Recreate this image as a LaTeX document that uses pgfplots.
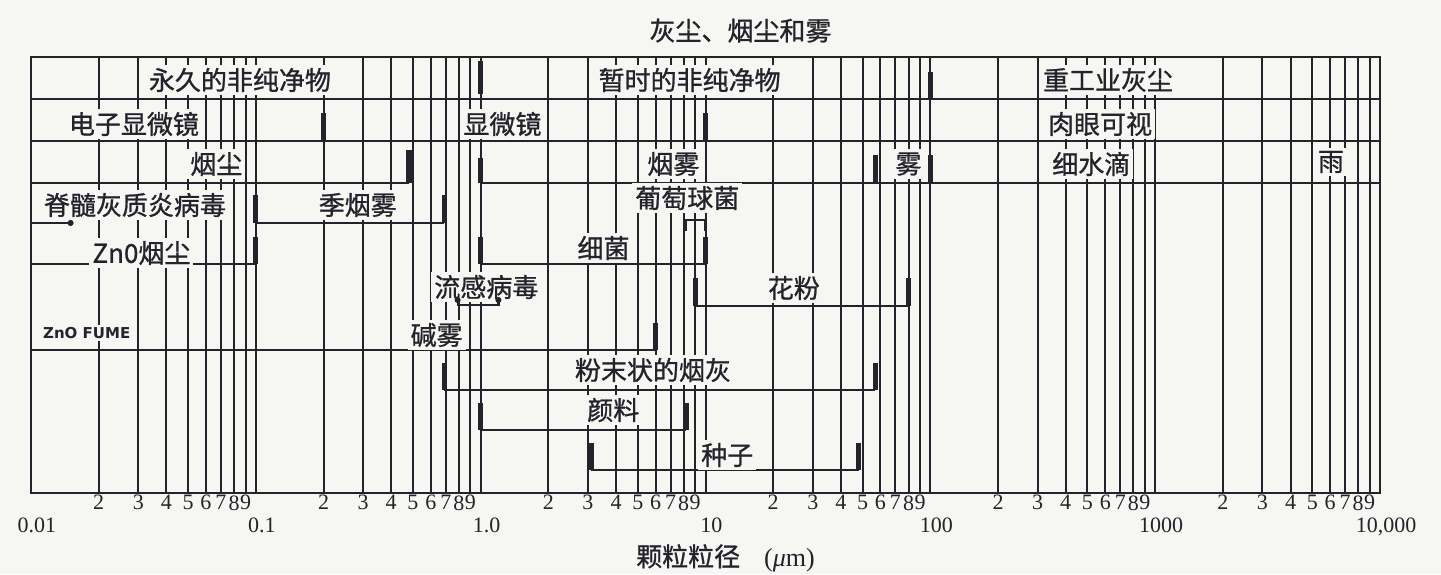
\documentclass[border=0pt]{standalone}
\usepackage{pgfplots}
\pgfplotsset{compat=1.18}
\usepackage{fontspec}
\setmainfont{Liberation Serif}
\newfontfamily\cjk[FakeBold=0.9]{Noto Sans CJK SC}
\newfontfamily\fume{DejaVu Sans}
\usetikzlibrary{backgrounds}
\definecolor{paper}{HTML}{F6F6F2}
\definecolor{ink}{HTML}{22232B}

\begin{document}
\begin{tikzpicture}[show background rectangle, inner frame sep=0pt,
  background rectangle/.style={fill=paper, draw=none},
  rowline/.style={ink, line width=1.1pt},
  endbar/.style={ink, line width=2.6pt},
  lab/.style={font=\cjk\fontsize{13}{14}\selectfont, fill=paper, inner sep=1.5pt, text=ink}]
\begin{axis}[
  scale only axis, width=674.5pt, height=218pt,
  xmode=log, xmin=0.01, xmax=10000, ymin=0, ymax=436,
  clip=false,
  axis line style={ink, line width=1.2pt},
  ytick=\empty,
  xtick={0.02,0.03,0.04,0.05,0.06,0.07,0.08,0.09,
         0.2,0.3,0.4,0.5,0.6,0.7,0.8,0.9,
         2,3,4,5,6,7,8,9,
         20,30,40,50,60,70,80,90,
         200,300,400,500,600,700,800,900,
         2000,3000,4000,5000,6000,7000,8000,9000},
  xticklabels={2,3,4,5,6,7,8,9,2,3,4,5,6,7,8,9,2,3,4,5,6,7,8,9,
               2,3,4,5,6,7,8,9,2,3,4,5,6,7,8,9,2,3,4,5,6,7,8,9},
  extra x ticks={0.01,0.1,1,10,100,1000,10000},
  extra x tick labels={0.01,0.1,1.0,10,100,1000,{10,000}},
  extra x tick style={grid=major, xticklabel style={yshift=-11pt, xshift=3pt}},
  xmajorgrids=true, xminorgrids=false, minor x tick num=0,
  major grid style={ink, line width=1pt},
  major tick length=0pt, minor tick length=0pt,
  xticklabel style={font=\fontsize{11}{12}\selectfont, inner sep=1pt, text=ink},
  title={\cjk 灰尘、烟尘和雾},
  every axis title/.style={at={(0.5,1)}, anchor=south, inner sep=0pt,
    yshift=7pt, xshift=17.5pt, font=\fontsize{13}{14}\selectfont, text=ink},
  xlabel={{\cjk 颗粒粒径}\hspace{12pt}(\textit{μ}m)},
  every axis x label/.style={at={(0.5,0)}, anchor=center, yshift=-32.5pt,
    xshift=10pt, font=\fontsize{13}{14}\selectfont, text=ink},
]
% full row lines
\addplot[rowline] coordinates {(0.01,394) (10000,394)};
\addplot[rowline] coordinates {(0.01,352) (10000,352)};
\addplot[rowline] coordinates {(0.01,310) (0.48,310)};
\addplot[rowline] coordinates {(1,310) (10000,310)};
% section marks in the top three rows
\addplot[endbar] coordinates {(1,399) (1,432)};
\addplot[endbar] coordinates {(100,394) (100,421)};
\addplot[endbar] coordinates {(0.2,352) (0.2,380)};
\addplot[endbar] coordinates {(10,352) (10,380)};
\addplot[endbar] coordinates {(0.48,310) (0.48,343)};
\addplot[endbar] coordinates {(1,310) (1,335)};
\addplot[endbar] coordinates {(57,310) (57,338)};
\addplot[endbar] coordinates {(100,310) (100,338)};
% polio virus
\addplot[rowline] coordinates {(0.01,270) (0.015,270)};
\addplot[only marks, mark=*, mark size=1.3pt, ink] coordinates {(0.015,270)};
% smog
\addplot[rowline] coordinates {(0.1,270) (0.69,270)};
\addplot[endbar] coordinates {(0.1,270) (0.1,298)};
\addplot[endbar] coordinates {(0.69,270) (0.69,298)};
% staphylococcus
\addplot[rowline] coordinates {(8.1,273) (10,273)};
\addplot[ink, line width=1.8pt] coordinates {(8.1,273) (8.1,262)};
\addplot[ink, line width=1.8pt] coordinates {(10,273) (10,262)};
% ZnO fume
\addplot[rowline] coordinates {(0.01,229) (0.1,229)};
\addplot[endbar] coordinates {(0.1,229) (0.1,256)};
% bacteria
\addplot[rowline] coordinates {(1,229) (10,229)};
\addplot[endbar] coordinates {(1,229) (1,256)};
\addplot[endbar] coordinates {(10,229) (10,256)};
% influenza virus
\addplot[rowline] coordinates {(0.79,193) (0.79,188) (1.2,188) (1.2,193)};
\addplot[only marks, mark=*, mark size=1.3pt, ink] coordinates {(0.79,193) (1.2,193)};
% pollen
\addplot[rowline] coordinates {(9,187) (80,187)};
\addplot[endbar] coordinates {(9,187) (9,215)};
\addplot[endbar] coordinates {(80,187) (80,215)};
% alkali mist
\addplot[rowline] coordinates {(0.01,143) (6,143)};
\addplot[endbar] coordinates {(6,143) (6,170)};
% pulverized fly ash
\addplot[rowline] coordinates {(0.69,103) (57,103)};
\addplot[endbar] coordinates {(0.69,103) (0.69,130)};
\addplot[endbar] coordinates {(57,103) (57,130)};
% pigment
\addplot[rowline] coordinates {(1,63) (8.2,63)};
\addplot[endbar] coordinates {(1,63) (1,90)};
\addplot[endbar] coordinates {(8.2,63) (8.2,90)};
% seeds
\addplot[rowline] coordinates {(3.1,23) (48,23)};
\addplot[endbar] coordinates {(3.1,23) (3.1,50)};
\addplot[endbar] coordinates {(48,23) (48,50)};

\node[lab] at (axis cs:0.085,413) {永久的非纯净物};
\node[lab] at (axis cs:8.5,413) {暂时的非纯净物};
\node[lab] at (axis cs:617,413) {重工业灰尘};
\node[lab] at (axis cs:0.0287,369) {电子显微镜};
\node[lab] at (axis cs:1.25,369) {显微镜};
\node[lab] at (axis cs:569,369) {肉眼可视};
\node[lab] at (axis cs:0.0667,329) {烟尘};
\node[lab] at (axis cs:7.2,329) {烟雾};
\node[lab] at (axis cs:80,329) {雾};
\node[lab] at (axis cs:520,329) {细水滴};
\node[lab] at (axis cs:6050,331) {雨};
\node[lab] at (axis cs:0.029,288) {脊髓灰质炎病毒};
\node[lab] at (axis cs:0.284,288) {季烟雾};
\node[lab] at (axis cs:8.3,295) {葡萄球菌};
\node[lab] at (axis cs:0.031,240) {Zn0烟尘};
\node[lab] at (axis cs:3.52,245) {细菌};
\node[lab] at (axis cs:1.06,206) {流感病毒};
\node[lab] at (axis cs:24.7,205) {花粉};
\node[fill=paper, inner sep=1pt, text=ink, font=\fume\bfseries\fontsize{7.5}{8}\selectfont] at (axis cs:0.0177,160) {ZnO FUME};
\node[lab] at (axis cs:0.637,158) {碱雾};
\node[lab] at (axis cs:5.84,123) {粉末状的烟灰};
\node[lab] at (axis cs:3.89,83) {颜料};
\node[lab] at (axis cs:12.5,38) {种子};

\coordinate (sw) at (rel axis cs:0,0);
\coordinate (ne) at (rel axis cs:1,1);
\end{axis}
\pgfresetboundingbox
\path ([shift={(-15.5pt,-40.5pt)}]sw) rectangle ([shift={(30.5pt,28.5pt)}]ne);
\end{tikzpicture}
\end{document}
